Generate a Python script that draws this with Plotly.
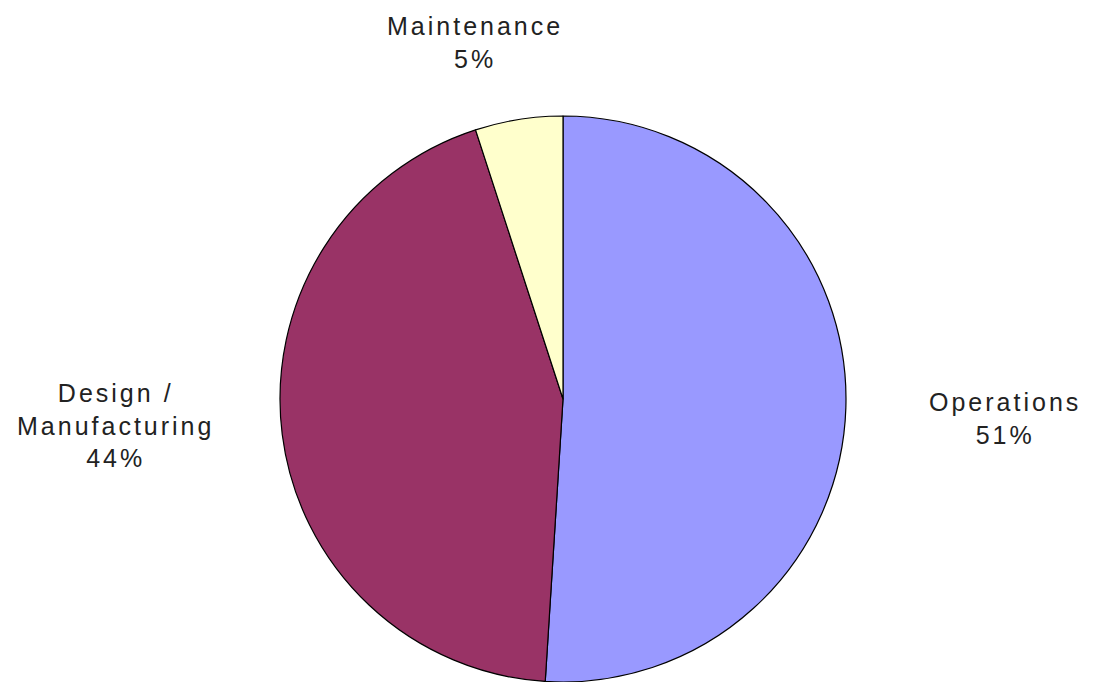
import plotly.graph_objects as go

labels = ["Operations", "Design /<br>Manufacturing", "Maintenance"]
values = [51, 44, 5]
colors = ["#9999FF", "#993366", "#FFFFCC"]

# label anchor positions (paper coords)
label_x = [1005 / 1096, 115 / 1096, 475 / 1096]
label_y = [1 - 418 / 682, 1 - 425 / 682, 1 - 43 / 682]

fig = go.Figure(go.Pie(
    labels=labels,
    values=values,
    sort=False,
    direction="clockwise",
    rotation=0,
    marker=dict(colors=colors, line=dict(color="#000000", width=1.2)),
    textinfo="none",
    hoverinfo="label+percent",
    domain=dict(x=[(563 - 283) / 1096, (563 + 283) / 1096], y=[0, 566 / 682]),
    showlegend=False,
))

total = sum(values)
for lab, v, x, y in zip(labels, values, label_x, label_y):
    lines = f"{lab}<br>{round(100 * v / total)}%".split("<br>")
    txt = "<br>".join(f'<span style="letter-spacing:3px">{ln}</span>' for ln in lines)
    fig.add_annotation(
        x=x, y=y, xref="paper", yref="paper",
        text=txt,
        showarrow=False, align="center",
        font=dict(family="Liberation Sans, Arial, sans-serif", size=25, color="#222222"),
        xanchor="center", yanchor="middle",
    )

fig.update_layout(
    width=1096, height=682,
    margin=dict(l=0, r=0, t=0, b=0),
    paper_bgcolor="white", plot_bgcolor="white",
)

fig.write_html("out.html")
